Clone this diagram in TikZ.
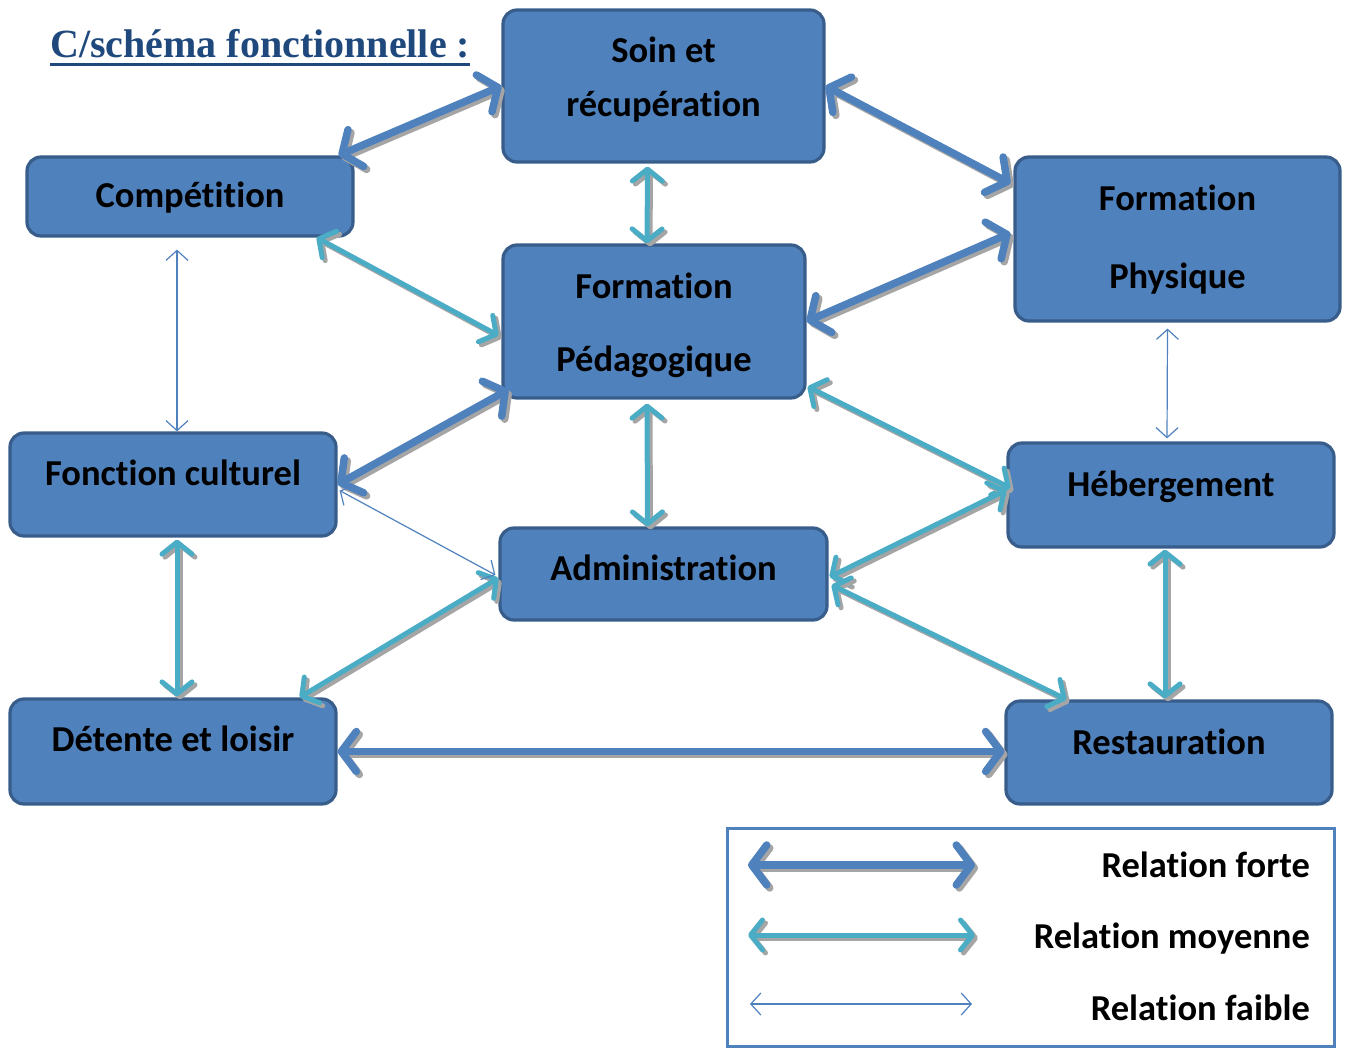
\documentclass[tikz,border=0pt]{standalone}
\usepackage{fontspec}
\usetikzlibrary{arrows.meta,calc}
\newfontfamily\carlito{Carlito}[Ligatures=NoCommon]
\newfontfamily\titrefont{Liberation Serif}
\definecolor{boxblue}{RGB}{79,129,189}
\definecolor{boxedge}{RGB}{56,93,138}
\definecolor{relcyan}{RGB}{75,172,198}
\definecolor{titreblue}{RGB}{31,73,125}
\definecolor{ombre}{RGB}{165,165,165}
% texte d'un bloc, ligne de base decalee par rapport au centre
\newcommand{\bloctxt}[2]{\raisebox{#1}[0pt][0pt]{#2}}
\newcommand{\deuxlignes}[3]{\begin{tabular}[b]{@{}c@{}}#1\\[#3]#2\end{tabular}}
% fleche avec ombre grise
\newcommand{\relation}[3]{%
  \draw[#1, draw=ombre, transform canvas={shift={(3pt,-3pt)}}] #2 -- #3;
  \draw[#1] #2 -- #3;}

\begin{document}
\begin{tikzpicture}[x=1pt, y=-1pt,
      box/.style={draw=boxedge, line width=3.2pt, fill=boxblue, rounded corners=14pt,
                  inner sep=0pt, align=center,
                  font=\carlito\bfseries\fontsize{36.5}{44}\selectfont},
      forte/.style={<->, >={Straight Barb[length=15pt,width=40pt,round]},
                    line width=7.5pt, draw=boxblue},
      moyenne/.style={<->, >={Straight Barb[length=12pt,width=30pt,round]},
                      line width=5pt, draw=relcyan},
      faible/.style={<->, >={Straight Barb[length=10pt,width=22pt]},
                     line width=1.2pt, draw=boxblue},
      legtext/.style={anchor=base east, inner sep=0pt,
                      font=\carlito\bfseries\fontsize{36.5}{44}\selectfont}
    ]
    \useasboundingbox (0,0) rectangle (1348,1048);

    % titre
    \node[anchor=base west, inner sep=0pt, text=titreblue,
          font=\titrefont\bfseries\fontsize{40}{48}\selectfont]
          (titre) at (50,58) {C/schéma fonctionnelle :};
    \draw[titreblue, line width=3pt] ($(titre.base west)+(0,7)$) -- ($(titre.base east)+(0,7)$);

    % blocs
    \node[box, minimum width=321, minimum height=152] (soin) at (663.5,86)
          {\bloctxt{-31pt}{\deuxlignes{Soin et}{récupération}{10pt}}};
    \node[box, minimum width=326, minimum height=79] (comp) at (190,196.5)
          {\bloctxt{-11.5pt}{Compétition}};
    \node[box, minimum width=325, minimum height=164] (phys) at (1177.5,239)
          {\bloctxt{-50pt}{\deuxlignes{Formation}{Physique}{34pt}}};
    \node[box, minimum width=302, minimum height=153] (peda) at (654,321.5)
          {\bloctxt{-49.5pt}{\deuxlignes{Formation}{Pédagogique}{29pt}}};
    \node[box, minimum width=326, minimum height=103] (cult) at (173,484.5)
          {\bloctxt{-0.5pt}{Fonction culturel}};
    \node[box, minimum width=326, minimum height=104] (heb) at (1171,495)
          {\bloctxt{-1pt}{Hébergement}};
    \node[box, minimum width=327, minimum height=92] (admin) at (663.5,574)
          {\bloctxt{-6pt}{Administration}};
    \node[box, minimum width=326, minimum height=105] (detente) at (173,751.5)
          {\bloctxt{0.5pt}{Détente et loisir}};
    \node[box, minimum width=326, minimum height=103] (resto) at (1169,752.5)
          {\bloctxt{-1.5pt}{Restauration}};

    % relations fortes
    \relation{forte}{($(comp.north east)+(-16,0)$)}{(soin.west)}
    \relation{forte}{(soin.east)}{($(phys.north west)+(-3,28)$)}
    \relation{forte}{($(phys.west)+(-3,-6)$)}{(peda.east)}
    \relation{forte}{($(peda.south west)+(7,-10)$)}{(cult.east)}
    \relation{forte}{(detente.east)}{(detente.east -| resto.west)}

    % relations moyennes
    \relation{moyenne}{($(soin.south)+(-16,3)$)}{($(peda.north)+(-7,0)$)}
    \relation{moyenne}{($(comp.south east)+(-38,0)$)}{($(peda.west)+(-3,14)$)}
    \relation{moyenne}{($(peda.south)+(-7,4)$)}{($(admin.north)+(-16,0)$)}
    \relation{moyenne}{($(peda.south east)+(1,-13)$)}{($(heb.west)+(4,-7)$)}
    \relation{moyenne}{($(heb.west)+(0,-5)$)}{($(admin.east)+(1,3)$)}
    \relation{moyenne}{($(admin.east)+(3,11)$)}{($(resto.north west)+(62,0)$)}
    \relation{moyenne}{($(heb.south)+(-6,1)$)}{($(resto.north)+(-4,-1)$)}
    \relation{moyenne}{($(cult.south)+(4,2)$)}{($(detente.north)+(4,-1)$)}
    \relation{moyenne}{($(admin.west)+(0,4)$)}{($(detente.north east)+(-38,0)$)}

    % relations faibles
    \draw[faible] ($(comp.south)+(-13,12)$) -- ($(cult.north)+(4,0)$);
    \draw[faible] ($(phys.south)+(-10,6)$) -- ($(heb.north)+(-4,-3)$);
    \draw[faible] ($(cult.east)+(2,6)$) -- ($(admin.west)+(-3,1)$);

    % legende
    \node[draw=boxblue, line width=3pt, minimum width=607, minimum height=218]
          (legende) at (1030.5,937) {};
    \coordinate (lf1) at (748,865);  \coordinate (lf2) at (975,865);
    \coordinate (lm1) at (748,935);  \coordinate (lm2) at (975,935);
    \coordinate (lw1) at (750,1004); \coordinate (lw2) at (972,1004);
    \relation{forte}{(lf1)}{(lf2)}
    \relation{moyenne}{(lm1)}{(lm2)}
    \draw[faible] (lw1) -- (lw2);
    \node[legtext] (tforte) at (1310,877) {Relation forte};
    \node[legtext] (tmoy) at (1310,948) {Relation moyenne};
    \node[legtext] (tfaible) at (1310,1020) {Relation faible};
  \end{tikzpicture}
\end{document}
